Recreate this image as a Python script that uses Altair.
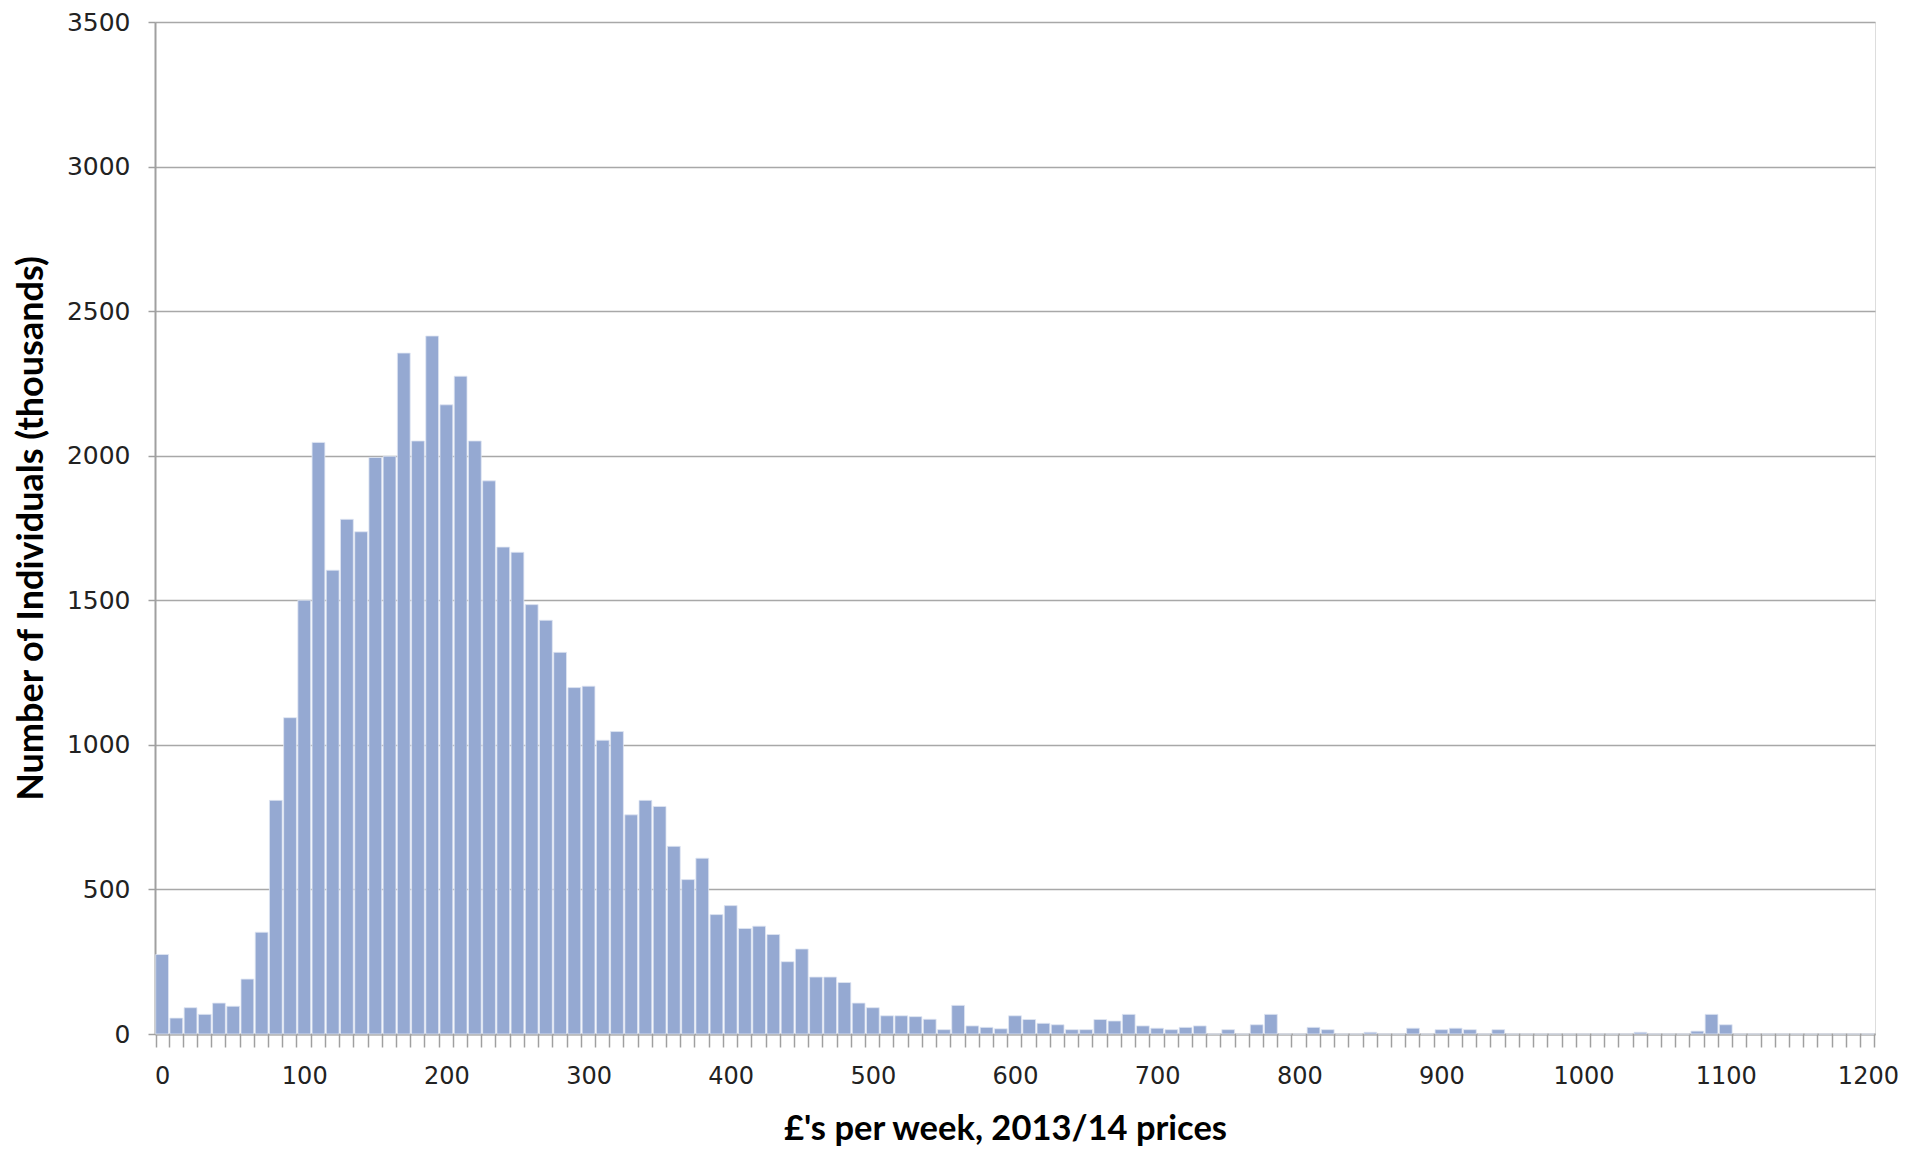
import altair as alt
import pandas as pd

# Income bands (£ per week, 2013/14 prices), bands of £10
bands = list(range(0, 1210, 10))

# Number of individuals (thousands) in each band
counts = [
    275, 55, 91, 68, 107, 96, 190, 352, 808, 1094,          # 0-90
    1500, 2046, 1604, 1780, 1737, 1994, 1998, 2355, 2051, 2414,  # 100-190
    2176, 2275, 2051, 1913, 1684, 1666, 1485, 1431, 1320, 1198,  # 200-290
    1203, 1016, 1046, 758, 808, 787, 649, 534, 608, 413,    # 300-390
    444, 365, 373, 344, 250, 294, 197, 197, 178, 107,       # 400-490
    91, 63, 63, 60, 51, 15, 99, 28, 23, 18,                 # 500-590
    63, 50, 37, 32, 15, 15, 50, 45, 68, 28,                 # 600-690
    20, 15, 23, 28, 0, 15, 0, 32, 68, 0,                    # 700-790
    0, 23, 15, 0, 0, 6, 0, 0, 20, 0,                        # 800-890
    15, 20, 15, 0, 15, 0, 0, 0, 0, 0,                       # 900-990
    0, 0, 0, 0, 6, 0, 0, 0, 10, 68,                         # 1000-1090
    32, 0, 0, 0, 0, 0, 0, 0, 0, 0,                          # 1100-1190
    0,                                                       # 1200
]

y_ticks = [0, 500, 1000, 1500, 2000, 2500, 3000, 3500]

df = pd.DataFrame({"band": bands, "count": counts})

title_font = "Lato, Open Sans, sans-serif"
label_font = "DejaVu Sans, Verdana, sans-serif"

chart = (
    alt.Chart(df)
    .mark_bar(color="#95a9d2", stroke="#dfe6f2", strokeWidth=0.8)
    .encode(
        x=alt.X(
            "band:O",
            sort=bands,
            scale=alt.Scale(paddingInner=0.1, paddingOuter=0.05),
            axis=alt.Axis(
                title="£'s per week, 2013/14 prices",
                labelAngle=0,
                labelExpr="datum.value % 100 == 0 ? datum.label : ''",
                labelOverlap=False,
                tickBand="extent",
                tickSize=13,
                tickColor="#a0a0a0",
                tickWidth=1.5,
                domainColor="#a0a0a0",
                domainWidth=2,
                labelFont=label_font,
                labelFontSize=24,
                labelColor="#222222",
                labelPadding=17,
                titleFont=title_font,
                titleFontSize=34.5,
                titleFontWeight="bold",
                titleColor="#000000",
                titlePadding=24,
                titleX=850,
                grid=False,
            ),
        ),
        y=alt.Y(
            "count:Q",
            scale=alt.Scale(domain=[0, 3500], nice=False),
            axis=alt.Axis(
                title="Number of Individuals (thousands)",
                values=y_ticks,
                format="d",
                tickSize=7,
                tickColor="#a0a0a0",
                tickWidth=1.5,
                domainColor="#a0a0a0",
                domainWidth=2,
                gridColor="#a8a8a8",
                gridWidth=1.5,
                labelFont=label_font,
                labelFontSize=25,
                labelColor="#222222",
                labelPadding=18,
                titleFont=title_font,
                titleFontSize=36,
                titleFontWeight="bold",
                titleColor="#000000",
                titlePadding=16,
            ),
        ),
    )
    .properties(
        width=1720,
        height=1012,
        autosize=alt.AutoSizeParams(type="none"),
        padding={"left": 147, "top": 14, "right": 30, "bottom": 118},
    )
    .configure_view(stroke="transparent", strokeWidth=0)
    .configure(background="white")
)

chart.save("out.html", embed_options={"renderer": "svg", "actions": False})
